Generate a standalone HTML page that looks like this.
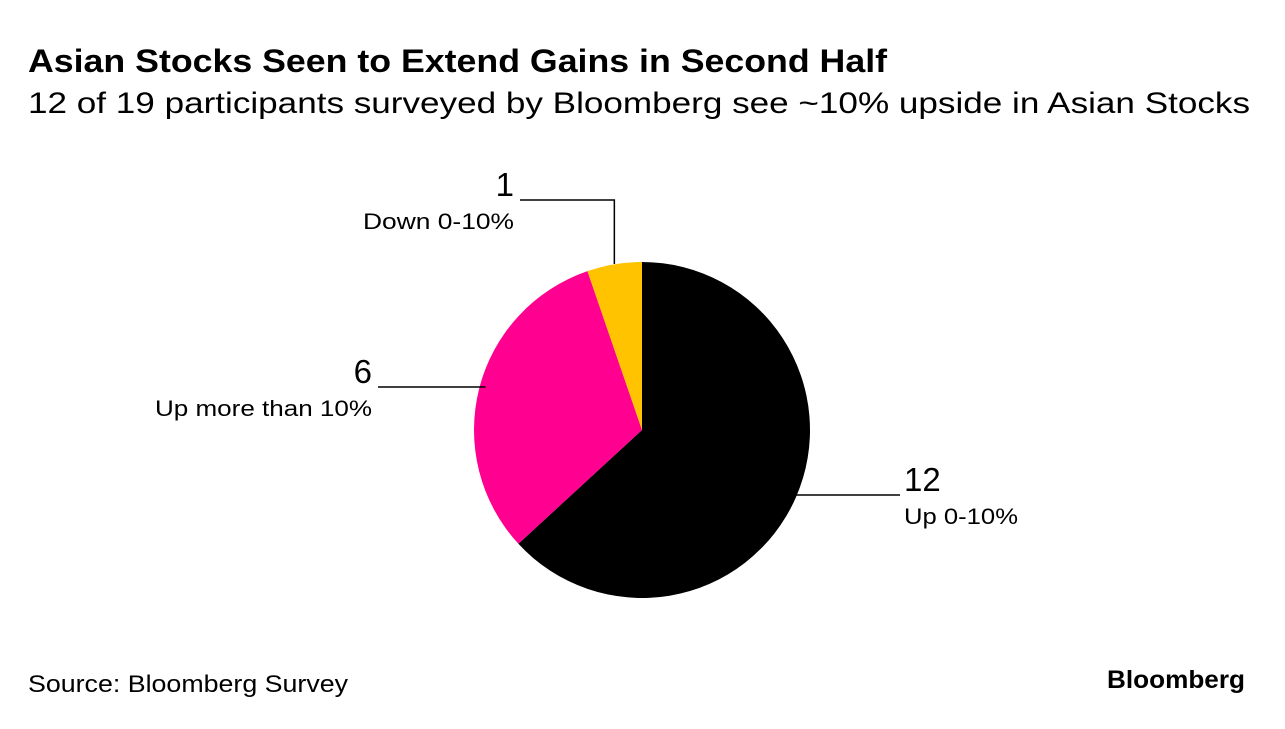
<!DOCTYPE html>
<html><head><meta charset="utf-8"><style>
body{margin:0;width:1285px;height:724px;background:#fff;font-family:"Liberation Sans",sans-serif;overflow:hidden}
</style></head><body>
<svg width="1285" height="724">
<text x="28" y="72" font-size="32" font-weight="bold" fill="#000" textLength="859" lengthAdjust="spacingAndGlyphs">Asian Stocks Seen to Extend Gains in Second Half</text>
<text x="28" y="113" font-size="30" fill="#000" textLength="1222" lengthAdjust="spacingAndGlyphs">12 of 19 participants surveyed by Bloomberg see ~10% upside in Asian Stocks</text>
<g id="pie"></g>
<text x="28" y="692" font-size="24" fill="#000" textLength="320" lengthAdjust="spacingAndGlyphs">Source: Bloomberg Survey</text>
<text x="1107" y="688" font-size="25" font-weight="bold" fill="#000" textLength="138" lengthAdjust="spacingAndGlyphs">Bloomberg</text>
</svg>
<script>
const labels=["Up 0-10%","Up more than 10%","Down 0-10%"];
const values=[12,6,1];
const colors=["#000000","#ff0090","#ffc300"];
const labelWidths=[114,217,151];
const cx=642,cy=430,r=168;
const g=document.getElementById('pie');
const ns="http://www.w3.org/2000/svg";
const total=values.reduce((a,b)=>a+b,0);
let a0=0;
const calloutPos=[{dir:1,lx:900,ly:495},{dir:-1,lx:378,ly:387},{dir:-1,lx:520,ly:200}];
values.forEach((v,i)=>{
  const a1=a0+v/total*2*Math.PI;
  const p=(a)=>[cx+r*Math.sin(a),cy-r*Math.cos(a)];
  const [x0,y0]=p(a0),[x1,y1]=p(a1);
  const path=document.createElementNS(ns,'path');
  path.setAttribute('d',`M${cx},${cy}L${x0},${y0}A${r},${r} 0 ${a1-a0>Math.PI?1:0} 1 ${x1},${y1}Z`);
  path.setAttribute('fill',colors[i]);
  
  
  g.appendChild(path);
  const mid=(a0+a1)/2;
  const c=calloutPos[i];
  const line=document.createElementNS(ns,'polyline');
  let pts;
  if(i===2){const [mx]=p(mid);pts=`${mx},${cy-r+2} ${mx},${c.ly} ${c.lx},${c.ly}`;}
  else{const ex=cx+c.dir*(r*Math.sqrt(Math.max(0,1-((c.ly-cy)/r)**2)))-c.dir*6;pts=`${ex},${c.ly} ${c.lx},${c.ly}`;}
  line.setAttribute('points',pts);line.setAttribute('fill','none');line.setAttribute('stroke','#000');line.setAttribute('stroke-width','1.5');
  
  
  g.appendChild(line);
  const anchor=c.dir>0?'start':'end';
  const tx=c.dir>0?c.lx+4:c.lx-6;
  const t1=document.createElementNS(ns,'text');
  t1.setAttribute('x',tx);t1.setAttribute('y',c.ly-4);t1.setAttribute('font-size','33');t1.setAttribute('text-anchor',anchor);
  t1.textContent=v;
  
  
  g.appendChild(t1);
  const t2=document.createElementNS(ns,'text');
  t2.setAttribute('x',tx);t2.setAttribute('y',c.ly+29);t2.setAttribute('font-size','22');t2.setAttribute('text-anchor',anchor);
  t2.setAttribute('textLength',labelWidths[i]);t2.setAttribute('lengthAdjust','spacingAndGlyphs');
  t2.textContent=labels[i];
  
  
  g.appendChild(t2);
  a0=a1;
});
</script>
</body></html>
